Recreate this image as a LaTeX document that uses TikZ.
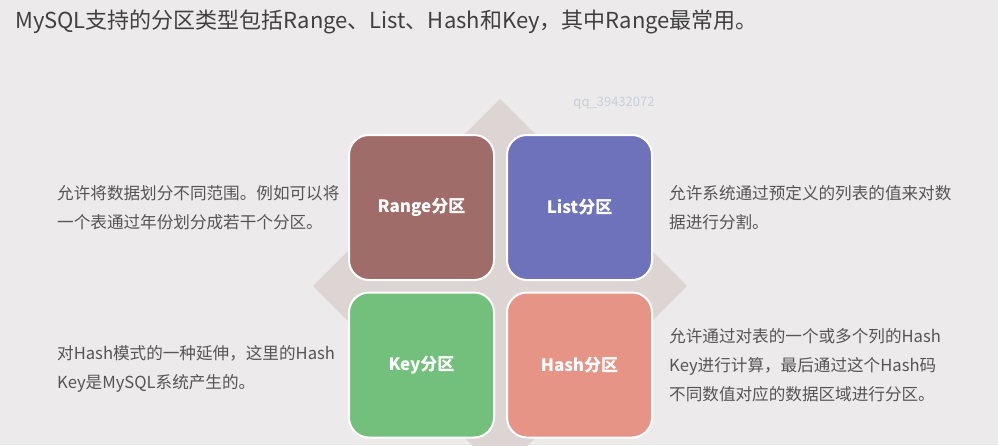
\documentclass[tikz,border=0pt]{standalone}
\usepackage{fontspec}
\setmainfont{Noto Sans CJK SC}
\definecolor{bgc}{HTML}{ECEAEA}
\definecolor{diam}{HTML}{DDD5D4}
\definecolor{rangec}{HTML}{A06C6A}
\definecolor{listc}{HTML}{6E72BA}
\definecolor{keyc}{HTML}{72C07C}
\definecolor{hashc}{HTML}{E59485}
\definecolor{txt}{HTML}{555555}
\definecolor{ttl}{HTML}{404040}
\definecolor{wm}{HTML}{C8CEDA}
\tikzset{
  box/.style={draw=white, line width=2pt, rounded corners=20pt, minimum width=145pt, minimum height=145pt, inner sep=0pt, text=white, font=\fontsize{17}{20}\selectfont\bfseries},
  desc/.style={anchor=base west, inner sep=0pt, align=left, text=txt, font=\fontsize{16.6}{29}\selectfont}
}
\begin{document}
\begin{tikzpicture}[x=1pt,y=-1pt]
\useasboundingbox (0,0) rectangle (998,445);
\fill[bgc] (0,0) rectangle (998,445);
\fill[diam] (500,99) -- (687,286) -- (500,473) -- (313,286) -- cycle;
\node[anchor=base west, inner sep=0pt, text=ttl, font=\fontsize{22}{24}\selectfont] (title) at (15,28) {MySQL支持的分区类型包括Range、List、Hash和Key，其中Range最常用。};
\node[text=wm, font=\fontsize{13}{15}\selectfont, inner sep=0pt] (wmark) at (614,103) {qq\_39432072};
\node[box, fill=rangec] (range) at (421.5,207.5) {Range分区};
\node[box, fill=listc] (list) at (579.5,207.5) {List分区};
\node[box, fill=keyc] (key) at (421.5,365) {Key分区};
\node[box, fill=hashc] (hash) at (579.5,365) {Hash分区};
\node[desc] (drange) at (57,228) {允许将数据划分不同范围。例如可以将\\一个表通过年份划分成若干个分区。};
\node[desc] (dlist) at (669,228) {允许系统通过预定义的列表的值来对数\\据进行分割。};
\node[desc] (dkey) at (57,388) {对Hash模式的一种延伸，这里的Hash\\Key是MySQL系统产生的。};
\node[desc] (dhash) at (669,400) {允许通过对表的一个或多个列的Hash\\Key进行计算，最后通过这个Hash码\\不同数值对应的数据区域进行分区。};
\end{tikzpicture}
\end{document}
